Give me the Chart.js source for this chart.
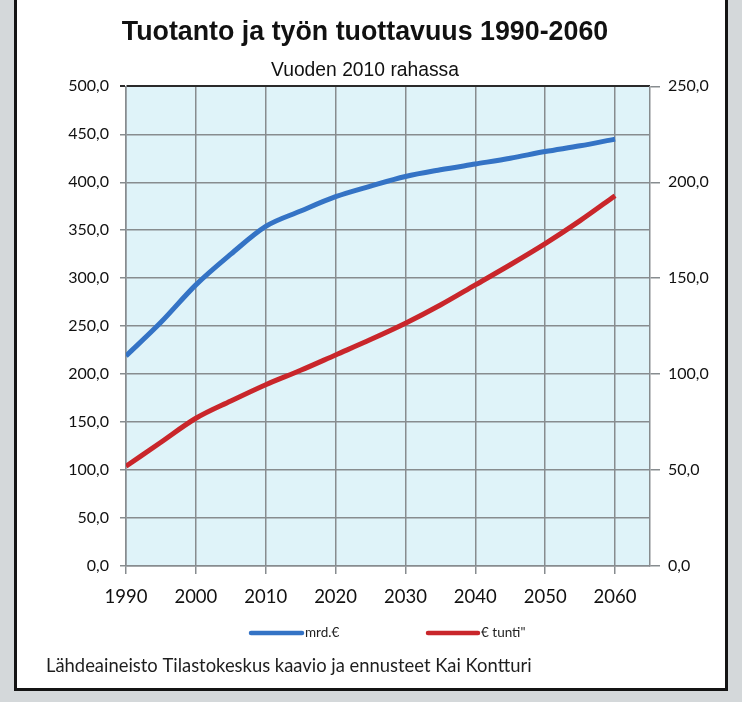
<!DOCTYPE html>
<html>
<head>
<meta charset="utf-8">
<script src="https://cdn.jsdelivr.net/npm/chart.js@4.4.1/dist/chart.umd.min.js"></script>
<style>
  html, body { margin: 0; padding: 0; width: 742px; height: 702px; background: #d4d8da; overflow: hidden; }
  #box { position: absolute; left: 14px; top: -3px; width: 708px; height: 688px; border: 3px solid #141414; background: #ffffff; }
  #box canvas { display: block; }
</style>
</head>
<body>
<div id="box"><canvas id="c" width="708" height="688"></canvas></div>
<script>
// ---- data ----
const years = [1990, 1995, 2000, 2005, 2010, 2015, 2020, 2025, 2030, 2035, 2040, 2045, 2050, 2055, 2060];
const tuotantoMrd = [219, 254, 293, 325, 354, 370, 385, 396, 406, 413, 419, 425, 432, 438, 445];      // mrd.€ (left axis)
const tuottavuusTunti = [52, 64.5, 77, 86, 94.5, 102, 110, 118, 126.5, 136, 146.5, 157, 168, 180, 193]; // € tunti (right axis)
const xTickYears = [1990, 2000, 2010, 2020, 2030, 2040, 2050, 2060];
const leftTicks = [0, 50, 100, 150, 200, 250, 300, 350, 400, 450, 500];
const rightTicks = [0, 50, 100, 150, 200, 250];
const seriesLabels = ['mrd.€', '€ tunti"'];
const titleText = 'Tuotanto ja työn tuottavuus 1990-2060';
const subtitleText = 'Vuoden 2010 rahassa';
const footerText = 'Lähdeaineisto Tilastokeskus kaavio ja ennusteet Kai Kontturi';

const BLUE = '#3473c5';
const RED = '#c9262b';
const GRID = '#878c8f';
const fmt = v => v.toFixed(1).replace('.', ',');

const plotBg = {
  id: 'plotBg',
  beforeDraw(chart) {
    const { ctx, chartArea: a } = chart;
    ctx.save();
    ctx.fillStyle = '#dff3f9';
    ctx.fillRect(a.left, a.top, a.right - a.left, a.bottom - a.top);
    ctx.restore();
  }
};

const legendAndFooter = {
  id: 'legendAndFooter',
  afterDraw(chart) {
    const { ctx } = chart;
    ctx.save();
    const items = [
      { x: 234, len: 51, ds: chart.data.datasets[0] },
      { x: 411, len: 50, ds: chart.data.datasets[1] }
    ];
    const ly = 633;
    ctx.font = '13.5px Lato';
    ctx.textBaseline = 'middle';
    ctx.textAlign = 'left';
    items.forEach(it => {
      ctx.strokeStyle = it.ds.borderColor;
      ctx.lineWidth = 4.5;
      ctx.lineCap = 'round';
      ctx.beginPath();
      ctx.moveTo(it.x, ly);
      ctx.lineTo(it.x + it.len, ly);
      ctx.stroke();
      ctx.fillStyle = '#222';
      ctx.fillText(it.ds.label, it.x + it.len + 3, ly);
    });
    ctx.font = '18.4px Lato';
    ctx.fillStyle = '#1e1e1e';
    ctx.fillText(footerText, 29, 666);
    ctx.restore();
  }
};

new Chart(document.getElementById('c'), {
  type: 'line',
  data: {
    datasets: [
      {
        label: seriesLabels[0],
        data: years.map((y, i) => ({ x: y, y: tuotantoMrd[i] })),
        borderColor: BLUE,
        backgroundColor: BLUE,
        borderWidth: 5,
        pointRadius: 0,
        cubicInterpolationMode: 'monotone',
        yAxisID: 'y'
      },
      {
        label: seriesLabels[1],
        data: years.map((y, i) => ({ x: y, y: tuottavuusTunti[i] })),
        borderColor: RED,
        backgroundColor: RED,
        borderWidth: 5,
        pointRadius: 0,
        cubicInterpolationMode: 'monotone',
        yAxisID: 'y1'
      }
    ]
  },
  options: {
    responsive: false,
    animation: false,
    layout: { padding: { left: 0, right: 12, top: 0, bottom: 82 } },
    plugins: {
      legend: { display: false },
      tooltip: { enabled: false },
      title: {
        display: true,
        text: titleText,
        color: '#111',
        font: { family: 'Liberation Sans', size: 26.8, weight: 'bold', lineHeight: 1.2 },
        padding: { top: 17, bottom: 3 }
      },
      subtitle: {
        display: true,
        text: subtitleText,
        color: '#111',
        font: { family: 'Liberation Sans', size: 19.3, lineHeight: 1.2 },
        padding: { top: 7, bottom: 4 }
      }
    },
    scales: {
      x: {
        type: 'linear',
        min: xTickYears[0],
        max: 2065,
        afterFit(s) { s.height = 40; },
        afterBuildTicks(s) { s.ticks = xTickYears.map(v => ({ value: v })); },
        ticks: {
          stepSize: 10,
          includeBounds: false,
          padding: 12,
          color: '#111',
          font: { family: 'Lato', size: 18.5 },
          maxRotation: 0,
          callback: v => String(v)
        },
        grid: { color: GRID, lineWidth: 1.5, tickLength: 8 },
        border: { color: GRID, width: 1.5 }
      },
      y: {
        position: 'left',
        min: 0,
        max: 500,
        afterFit(s) { s.width = 109; },
        afterBuildTicks(s) { s.ticks = leftTicks.map(v => ({ value: v })); },
        ticks: {
          stepSize: 50,
          padding: 11,
          color: '#111',
          font: { family: 'Lato', size: 16 },
          callback: v => fmt(v)
        },
        grid: {
          color: c => (c.tick && c.tick.value === 500 ? '#2a2a2a' : GRID),
          lineWidth: c => (c.tick && c.tick.value === 500 ? 2 : 1.5),
          tickLength: 6
        },
        border: { color: GRID, width: 1.5 }
      },
      y1: {
        position: 'right',
        min: 0,
        max: 250,
        afterFit(s) { s.width = 63; },
        afterBuildTicks(s) { s.ticks = rightTicks.map(v => ({ value: v })); },
        ticks: {
          stepSize: 50,
          padding: 8,
          color: '#111',
          font: { family: 'Lato', size: 16 },
          callback: v => fmt(v)
        },
        grid: { drawOnChartArea: false, color: GRID, lineWidth: 1.5, tickLength: 10 },
        border: { color: GRID, width: 1.5 }
      }
    }
  },
  plugins: [plotBg, legendAndFooter]
});
</script>
</body>
</html>
